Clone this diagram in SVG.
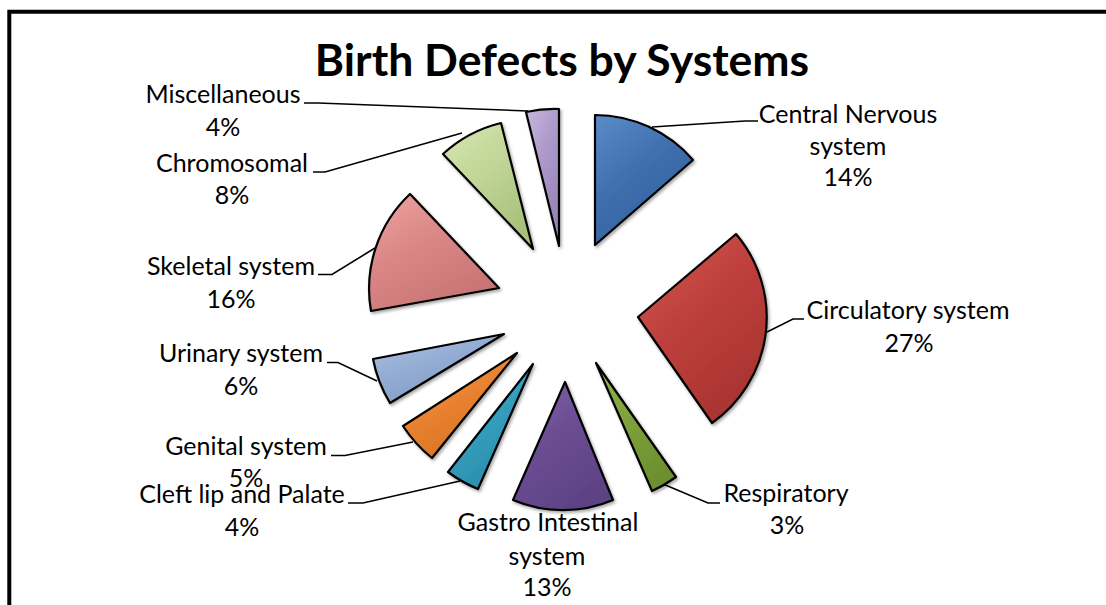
<svg xmlns="http://www.w3.org/2000/svg" width="1106" height="605" viewBox="0 0 1106 605">
<style>
.lbl{font-family:Lato,"Open Sans","Liberation Sans",sans-serif;font-size:25px;fill:#000;text-anchor:middle}
.ttl{font-family:Lato,"Open Sans","Liberation Sans",sans-serif;font-size:44.5px;font-weight:bold;fill:#000;text-anchor:middle}
.w{stroke:#000;stroke-width:2.2;stroke-linejoin:round;filter:url(#sh)}
.ld{fill:none;stroke:#000;stroke-width:1.6}
</style>
<defs>
<filter id="sh" x="-20%" y="-20%" width="150%" height="150%">
<feDropShadow dx="1.5" dy="2" stdDeviation="1.5" flood-color="#000" flood-opacity="0.35"/>
</filter>
<linearGradient id="gBlue" x1="0" y1="0" x2="0.6" y2="1"><stop offset="0" stop-color="#5b8cc8"/><stop offset="0.5" stop-color="#3f6fae"/><stop offset="1" stop-color="#33609d"/></linearGradient>
<linearGradient id="gRed" x1="0" y1="0" x2="0.6" y2="1"><stop offset="0" stop-color="#d45955"/><stop offset="0.5" stop-color="#be3f3c"/><stop offset="1" stop-color="#a93431"/></linearGradient>
<linearGradient id="gGrn" x1="0" y1="0" x2="0.6" y2="1"><stop offset="0" stop-color="#92b44e"/><stop offset="0.5" stop-color="#7ea13c"/><stop offset="1" stop-color="#6d8f30"/></linearGradient>
<linearGradient id="gPur" x1="0" y1="0" x2="0.6" y2="1"><stop offset="0" stop-color="#8063a8"/><stop offset="0.5" stop-color="#6b4d93"/><stop offset="1" stop-color="#5d4284"/></linearGradient>
<linearGradient id="gTeal" x1="0" y1="0" x2="0.6" y2="1"><stop offset="0" stop-color="#4fb6d2"/><stop offset="0.5" stop-color="#35a0be"/><stop offset="1" stop-color="#2a8aa6"/></linearGradient>
<linearGradient id="gOrg" x1="0" y1="0" x2="0.6" y2="1"><stop offset="0" stop-color="#f89a4c"/><stop offset="0.5" stop-color="#ea8331"/><stop offset="1" stop-color="#d57222"/></linearGradient>
<linearGradient id="gLBlue" x1="0" y1="0" x2="0.6" y2="1"><stop offset="0" stop-color="#adc3e3"/><stop offset="0.5" stop-color="#93acd3"/><stop offset="1" stop-color="#809bc4"/></linearGradient>
<linearGradient id="gPink" x1="0" y1="0" x2="0.6" y2="1"><stop offset="0" stop-color="#eea3a2"/><stop offset="0.5" stop-color="#d98685"/><stop offset="1" stop-color="#c87474"/></linearGradient>
<linearGradient id="gLGrn" x1="0" y1="0" x2="0.6" y2="1"><stop offset="0" stop-color="#d8e8b0"/><stop offset="0.5" stop-color="#c0d597"/><stop offset="1" stop-color="#a9c07c"/></linearGradient>
<linearGradient id="gLPur" x1="0" y1="0" x2="0.6" y2="1"><stop offset="0" stop-color="#c6b6df"/><stop offset="0.5" stop-color="#ac98c9"/><stop offset="1" stop-color="#9884b8"/></linearGradient>
</defs>
<rect x="0" y="0" width="1106" height="605" fill="#fff"/>
<path d="M9.3 605 V11.7 H1106" fill="none" stroke="#000" stroke-width="4"/>
<text class="ttl" x="562" y="76">Birth Defects by Systems</text>

<g id="connectors">
<path class="ld" d="M758 121 H745 L652 127"/>
<path class="ld" d="M804 319 H793 L767 332"/>
<path class="ld" d="M720 503 H708 L663 484"/>
<path class="ld" d="M348 503 H363 L460 481"/>
<path class="ld" d="M331 455.5 H345 L413 442"/>
<path class="ld" d="M327 362.5 H338 L377 381"/>
<path class="ld" d="M318 274.5 H332 L375 248"/>
<path class="ld" d="M313 172 H325 L462 133"/>
<path class="ld" d="M304 103 H318 L528 111"/>
</g>

<g id="cns">
<path class="w" fill="url(#gBlue)" d="M595 245 L595 115 A130 130 0 0 1 693 160 Z"/>
<text class="lbl" x="848" y="123">Central Nervous</text>
<text class="lbl" x="848" y="155">system</text>
<text class="lbl" x="848" y="186">14%</text>
</g>
<g id="circulatory">
<path class="w" fill="url(#gRed)" d="M638 317 L736 234 A129 129 0 0 1 712 423 Z"/>
<text class="lbl" x="908" y="319">Circulatory system</text>
<text class="lbl" x="909" y="352">27%</text>
</g>
<g id="respiratory">
<path class="w" fill="url(#gGrn)" d="M596 363 L676 477 A140 140 0 0 1 652 491 Z"/>
<text class="lbl" x="786" y="502">Respiratory</text>
<text class="lbl" x="787" y="534">3%</text>
</g>
<g id="gastro">
<path class="w" fill="url(#gPur)" d="M565 382 L613 500 A128 128 0 0 1 513 500 Z"/>
<text class="lbl" x="548" y="531">Gastro Intestinal</text>
<text class="lbl" x="547" y="565">system</text>
<text class="lbl" x="547" y="596">13%</text>
</g>
<g id="cleft">
<path class="w" fill="url(#gTeal)" d="M533 364 L478 489 A137 137 0 0 1 448 472 Z"/>
<text class="lbl" x="242" y="503">Cleft lip and Palate</text>
<text class="lbl" x="242" y="536">4%</text>
</g>
<g id="genital">
<path class="w" fill="url(#gOrg)" d="M517 353 L432 458 A135 135 0 0 1 403 426 Z"/>
<text class="lbl" x="246" y="455">Genital system</text>
<text class="lbl" x="246" y="487">5%</text>
</g>
<g id="urinary">
<path class="w" fill="url(#gLBlue)" d="M504 334 L390 403 A134 134 0 0 1 373 359 Z"/>
<text class="lbl" x="241" y="362">Urinary system</text>
<text class="lbl" x="241" y="395">6%</text>
</g>
<g id="skeletal">
<path class="w" fill="url(#gPink)" d="M499 288 L371 311 A130 130 0 0 1 410 194 Z"/>
<text class="lbl" x="231" y="275">Skeletal system</text>
<text class="lbl" x="231" y="308">16%</text>
</g>
<g id="chromosomal">
<path class="w" fill="url(#gLGrn)" d="M533 249 L443 154 A131 131 0 0 1 501 123 Z"/>
<text class="lbl" x="232" y="172">Chromosomal</text>
<text class="lbl" x="232" y="204">8%</text>
</g>
<g id="miscellaneous">
<path class="w" fill="url(#gLPur)" d="M559 246 L526 112 A136 136 0 0 1 559 109 Z"/>
<text class="lbl" x="223" y="103">Miscellaneous</text>
<text class="lbl" x="223" y="136">4%</text>
</g>
</svg>
